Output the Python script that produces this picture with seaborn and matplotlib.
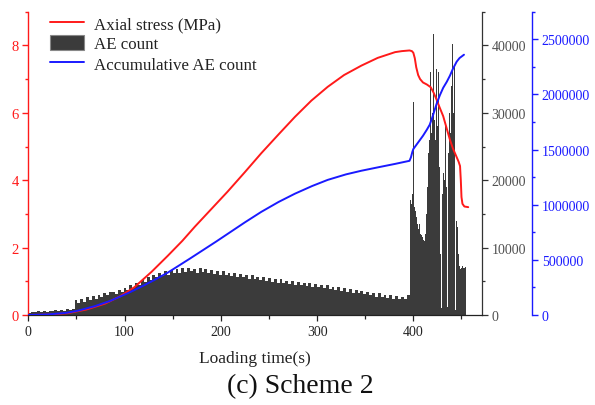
import numpy as np
import pandas as pd
import matplotlib
matplotlib.use("Agg")
import matplotlib.pyplot as plt
import seaborn as sns
from matplotlib.ticker import MultipleLocator
from matplotlib.lines import Line2D
from matplotlib.patches import Patch

# ---------------- data ----------------
stress_time = [0, 20, 40, 60, 80, 95, 110, 128, 145, 160, 173, 190, 207, 225, 242,
               260, 277, 294, 311, 328, 346, 363, 381, 388, 396, 398.5, 400, 401.5,
               403, 405, 407, 410, 414, 418, 421, 424, 427, 431, 435, 438, 441, 444,
               447, 448.5, 449.3, 450, 451, 453, 457]
stress_mpa = [0.0, 0.01, 0.05, 0.16, 0.34, 0.55, 0.82, 1.28, 1.76, 2.2, 2.62, 3.14,
              3.66, 4.24, 4.8, 5.36, 5.88, 6.36, 6.77, 7.12, 7.4, 7.63, 7.8, 7.83, 7.85,
              7.83, 7.78, 7.62, 7.35, 7.12, 7.0, 6.9, 6.84, 6.76, 6.6, 6.4, 6.18, 5.9,
              5.5, 5.2, 4.95, 4.75, 4.55, 4.42, 4.0, 3.5, 3.3, 3.22, 3.2]

cum_time = [0, 20, 40, 52, 69, 85, 104, 120, 131, 145, 155, 168, 180, 195, 207, 225,
            242, 260, 277, 295, 311, 330, 346, 365, 381, 396, 397.5, 399, 400, 405,
            410, 414, 417, 420, 424, 427.5, 431, 434.7, 438, 441, 445, 448, 452.6]
cum_count = [0, 5000, 20000, 40000, 80000, 128000, 200000, 268000, 318000, 385000,
             440000, 512000, 580000, 665000, 735000, 840000, 935000, 1025000, 1100000,
             1170000, 1225000, 1275000, 1308000, 1342000, 1370000, 1398000, 1430000,
             1480000, 1505000, 1565000, 1625000, 1680000, 1725000, 1800000, 1910000,
             1992000, 2060000, 2114000, 2170000, 2230000, 2297000, 2330000, 2360000]

ae_time = list(range(0, 396, 3)) + list(range(396, 455))
ae_count = [
    # 0-45
    300, 450, 380, 520, 430, 580, 470, 650, 520, 720, 580, 800, 640, 850, 690, 950,
    # 48-84
    2200, 1750, 2350, 1950, 2600, 2200, 2800, 2400, 3000, 2650, 3200, 2900, 3350,
    # 87-120
    3450, 3150, 3750, 3400, 4000, 3700, 4400, 4000, 4800, 4400, 5200, 4900,
    # 123-156
    5700, 5200, 6000, 5600, 6300, 5800, 6500, 6000, 6700, 6200, 6800, 6300,
    # 159-210
    6900, 6400, 7000, 6500, 6800, 6300, 7000, 6400, 6800, 6200, 6700, 6100, 6600,
    6000, 6500, 5900, 6300, 5800,
    # 213-300
    6200, 5700, 6100, 5600, 6000, 5400, 5900, 5300, 5700, 5200, 5600, 5100, 5500,
    4900, 5400, 4800, 5300, 4700, 5100, 4600, 5000, 4500, 4900, 4400, 4800, 4300,
    4700, 4200, 4600, 4100,
    # 303-348
    4500, 4000, 4400, 3800, 4200, 3700, 4100, 3500, 4000, 3400, 3800, 3300, 3700,
    3200, 3600, 3100,
    # 351-393
    3400, 2900, 3300, 2700, 3200, 2600, 3000, 2500, 2900, 2400, 2800, 2300, 2700,
    2400, 2900,
    # 396-454 (1 s)
    25900, 17000, 16500, 18000, 31600, 16000, 15500, 14500, 13500, 12800, 13500,
    12000, 11800, 11500, 11200, 11000, 12000, 15000, 19000, 24000, 26000, 36000,
    27000, 30000, 41700, 29000, 27000, 26000, 36500, 28000, 36000, 22000, 9000,
    1000, 18000, 21000, 20000, 28500, 19000, 1200, 24000, 30000, 27000, 34000,
    40200, 30000, 37000, 800, 14000, 13000, 9000, 7200, 6800, 7100, 6900, 7200,
    7000, 6900, 7100,
]
ae_end = 455

labels = ["Axial stress (MPa)", "AE count", "Accumulative AE count"]

# ---------------- style ----------------
sns.set_theme(style="ticks")
plt.rcParams["font.family"] = ["Liberation Serif", "DejaVu Serif"]

RED = "#ff1a1a"
BLUE = "#1a1aff"
BAR = "#3b3b3b"
GRAY = "#505050"

W, H = 595, 406
fig = plt.figure(figsize=(W / 100, H / 100), dpi=100)
fig.patch.set_facecolor("white")
left, right, bottom, top = 28.3, 481.7, 316, 12.7
ax = fig.add_axes([left / W, 1 - bottom / H, (right - left) / W, (bottom - top) / H])
ax2 = ax.twinx()
ax3 = ax.twinx()

# bars (AE count)
edges = [float(t) for t in ae_time] + [float(ae_end)]
centers = [(edges[i] + edges[i + 1]) / 2 for i in range(len(ae_time))]
ae_df = pd.DataFrame({"t": centers, "n": ae_count})
sns.histplot(data=ae_df, x="t", weights="n", bins=edges, common_bins=False,
             ax=ax2, color=BAR, alpha=1, linewidth=0, element="bars", legend=False)

# lines
sns.lineplot(x=stress_time, y=stress_mpa, ax=ax, color=RED, lw=1.4,
             estimator=None, sort=False)
sns.lineplot(x=cum_time, y=cum_count, ax=ax3, color=BLUE, lw=1.4,
             estimator=None, sort=False)

# z-order: bars behind the lines
ax2.set_zorder(0)
ax.set_zorder(1)
ax3.set_zorder(2)
ax.patch.set_visible(False)
ax2.patch.set_visible(False)
ax3.patch.set_visible(False)

# limits
ax.set_xlim(0, 471)
ax.set_ylim(0, 9)
ax2.set_ylim(0, 45000)
ax3.set_ylim(0, 2750000)
for a in (ax, ax2, ax3):
    a.set_xlabel("")
    a.set_ylabel("")

# spines
ax.spines["top"].set_visible(False)
ax.spines["right"].set_visible(False)
ax.spines["left"].set_color(RED)
ax.spines["left"].set_linewidth(1.0)
ax.spines["bottom"].set_color("#222222")
ax.spines["bottom"].set_linewidth(0.9)
for s in ("top", "left", "bottom"):
    ax2.spines[s].set_visible(False)
    ax3.spines[s].set_visible(False)
ax2.spines["right"].set_color("#333333")
ax2.spines["right"].set_linewidth(0.9)
ax3.spines["right"].set_position(("outward", 50 * 0.72))  # 50 px
ax3.spines["right"].set_color(BLUE)
ax3.spines["right"].set_linewidth(1.0)

# ticks
ax.xaxis.set_major_locator(MultipleLocator(100))
ax.xaxis.set_minor_locator(MultipleLocator(50))
ax.yaxis.set_major_locator(MultipleLocator(2))
ax.yaxis.set_minor_locator(MultipleLocator(1))
ax2.yaxis.set_major_locator(MultipleLocator(10000))
ax2.yaxis.set_minor_locator(MultipleLocator(5000))
ax3.yaxis.set_major_locator(MultipleLocator(500000))
ax3.yaxis.set_minor_locator(MultipleLocator(250000))

ax.tick_params(axis="x", which="major", direction="out", length=4.2, width=0.9,
               color="#222222", labelcolor="#222222", labelsize=10, pad=3)
ax.tick_params(axis="x", which="minor", direction="out", length=3, width=0.9,
               color="#222222", bottom=True)
ax.tick_params(axis="y", which="major", direction="out", length=4.2, width=1.0,
               color=RED, labelcolor=RED, labelsize=10.5, pad=2.5, left=True)
ax.tick_params(axis="y", which="minor", direction="out", length=2.2, width=1.0,
               color=RED, left=True)
ax2.tick_params(axis="y", which="major", direction="out", length=4.2, width=0.9,
                color="#333333", labelcolor=GRAY, labelsize=10, pad=3, right=True)
ax2.tick_params(axis="y", which="minor", direction="out", length=2.2, width=0.9,
                color="#333333", right=True)
ax3.tick_params(axis="y", which="major", direction="out", length=4.2, width=1.0,
                color=BLUE, labelcolor=BLUE, labelsize=10, pad=3, right=True)
ax3.tick_params(axis="y", which="minor", direction="out", length=2.2, width=1.0,
                color=BLUE, right=True)
for a in (ax2, ax3):
    a.ticklabel_format(axis="y", style="plain", useOffset=False)

# legend
handles = [Line2D([], [], color=RED, lw=1.4),
           Patch(facecolor=BAR, edgecolor="#888888", linewidth=0.8),
           Line2D([], [], color=BLUE, lw=1.4)]
fig.legend(handles, labels, loc="upper left",
           bbox_to_anchor=(50 / W, 1 - 16 / H), bbox_transform=fig.transFigure,
           frameon=False, fontsize=12.2, handlelength=2.0, handleheight=1.0,
           handletextpad=0.6, labelspacing=0.16, borderpad=0, borderaxespad=0,
           labelcolor="#222222")

fig.text(255 / W, 1 - 363.3 / H, "Loading time(s)", ha="center", va="baseline",
         fontsize=12.5, color="#222222")
fig.text(300 / W, 1 - 392.7 / H, "(c) Scheme 2", ha="center", va="baseline",
         fontsize=20, color="#111111")

fig.savefig("out.png", dpi=100, facecolor="white")
